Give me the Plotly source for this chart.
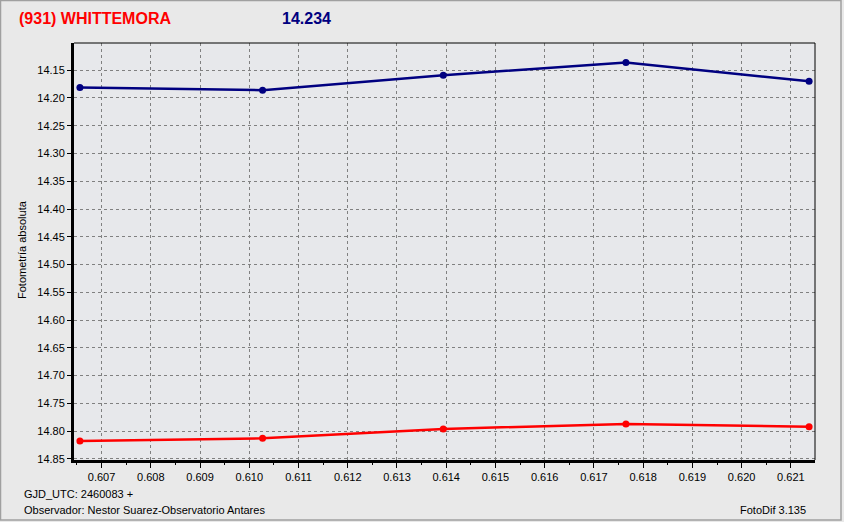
import plotly.graph_objects as go

# ---- data ----
gjd_frac = [0.60656, 0.61027, 0.61394, 0.61765, 0.62137]
asteroid_mag = [14.181, 14.186, 14.159, 14.136, 14.170]
comp_mag = [14.818, 14.813, 14.796, 14.787, 14.792]
x_ticks = [0.607, 0.608, 0.609, 0.610, 0.611, 0.612, 0.613, 0.614,
           0.615, 0.616, 0.617, 0.618, 0.619, 0.620, 0.621]
y_ticks = [14.15, 14.20, 14.25, 14.30, 14.35, 14.40, 14.45, 14.50, 14.55,
           14.60, 14.65, 14.70, 14.75, 14.80, 14.85]

W, H = 844, 522
L, R, T, B = 74, 29, 43, 62
pw, ph = W - L - R, H - T - B
X_RANGE = [0.60644, 0.62149]

def px(xp):
    return (xp - L) / pw

def py(yp):
    return 1 - (yp - T) / ph

FONT = "Liberation Sans, Arial, sans-serif"

fig = go.Figure()
fig.add_trace(go.Scatter(x=gjd_frac, y=asteroid_mag, mode="lines+markers",
                         line=dict(color="#000080", width=2.5),
                         marker=dict(color="#000080", size=7, symbol="circle"),
                         showlegend=False))
fig.add_trace(go.Scatter(x=gjd_frac, y=comp_mag, mode="lines+markers",
                         line=dict(color="#FF0000", width=2.5),
                         marker=dict(color="#FF0000", size=7, symbol="circle"),
                         showlegend=False))

fig.update_layout(
    xaxis=dict(range=X_RANGE, tickmode="array", tickvals=x_ticks,
               ticktext=[f"{v:.3f}" for v in x_ticks],
               ticks="outside", ticklen=5, tickcolor="#000",
               showgrid=True, gridcolor="#808080", gridwidth=1, griddash="3px,3px",
               showline=True, linecolor="#000", linewidth=3,
               zeroline=False, tickfont=dict(family=FONT, size=11, color="#000")),
    # minor tick marks only (no grid, no labels)
    xaxis2=dict(range=X_RANGE, overlaying="x", side="bottom", anchor="y",
                tickmode="linear", tick0=0.6065, dtick=0.001,
                ticks="outside", ticklen=4, tickcolor="#000",
                showticklabels=False, showgrid=False, zeroline=False, showline=False),
    yaxis=dict(range=[14.852, 14.101], tickmode="array", tickvals=y_ticks,
               ticktext=[f"{v:.2f}" for v in y_ticks],
               ticks="outside", ticklen=4, tickcolor="#000",
               showgrid=True, gridcolor="#808080", gridwidth=1, griddash="3px,3px",
               showline=True, linecolor="#000", linewidth=3,
               zeroline=False, tickfont=dict(family=FONT, size=11, color="#000")),
)
# invisible trace to activate the minor-tick axis
fig.add_trace(go.Scatter(x=[X_RANGE[0]], y=[14.5], xaxis="x2", mode="markers",
                         marker=dict(opacity=0), hoverinfo="skip", showlegend=False))

shapes = [
    dict(type="line", xref="paper", yref="paper", x0=0, x1=1, y0=1, y1=1,
         line=dict(color="#000", width=1)),
    dict(type="line", xref="paper", yref="paper", x0=1, x1=1, y0=0, y1=1,
         line=dict(color="#000", width=1)),
    dict(type="rect", xref="paper", yref="paper", x0=px(0.5), x1=px(841), y0=py(0.5), y1=py(520),
         line=dict(color="#A0A0A0", width=1.5)),
]

annotations = [
    dict(text="<b>(931) WHITTEMORA</b>", x=px(17), y=py(19), xref="paper", yref="paper",
         xanchor="left", yanchor="middle", showarrow=False,
         font=dict(family=FONT, size=16, color="#FF0000")),
    dict(text="<b>14.234</b>", x=px(280), y=py(19), xref="paper", yref="paper",
         xanchor="left", yanchor="middle", showarrow=False,
         font=dict(family=FONT, size=16, color="#000080")),
    dict(text="Fotometría absoluta", x=px(22), y=py(250), xref="paper", yref="paper",
         xanchor="center", yanchor="middle", showarrow=False, textangle=-90,
         font=dict(family=FONT, size=11, color="#000")),
    dict(text="GJD_UTC: 2460083 +", x=px(22), y=py(494), xref="paper", yref="paper",
         xanchor="left", yanchor="middle", showarrow=False,
         font=dict(family=FONT, size=11, color="#000")),
    dict(text="Observador: Nestor Suarez-Observatorio Antares", x=px(22), y=py(510),
         xref="paper", yref="paper", xanchor="left", yanchor="middle", showarrow=False,
         font=dict(family=FONT, size=11, color="#000")),
    dict(text="FotoDif 3.135", x=px(808), y=py(510), xref="paper", yref="paper",
         xanchor="right", yanchor="middle", showarrow=False,
         font=dict(family=FONT, size=11, color="#000")),
]

fig.update_layout(width=W, height=H, margin=dict(l=L, r=R, t=T, b=B),
                  paper_bgcolor="#E9E9E9", plot_bgcolor="#E7E8EB",
                  shapes=shapes, annotations=annotations, showlegend=False)

fig.write_html("out.html", config={"displayModeBar": False},
               post_script="document.body.style.margin='0';document.body.style.overflow='hidden';")
